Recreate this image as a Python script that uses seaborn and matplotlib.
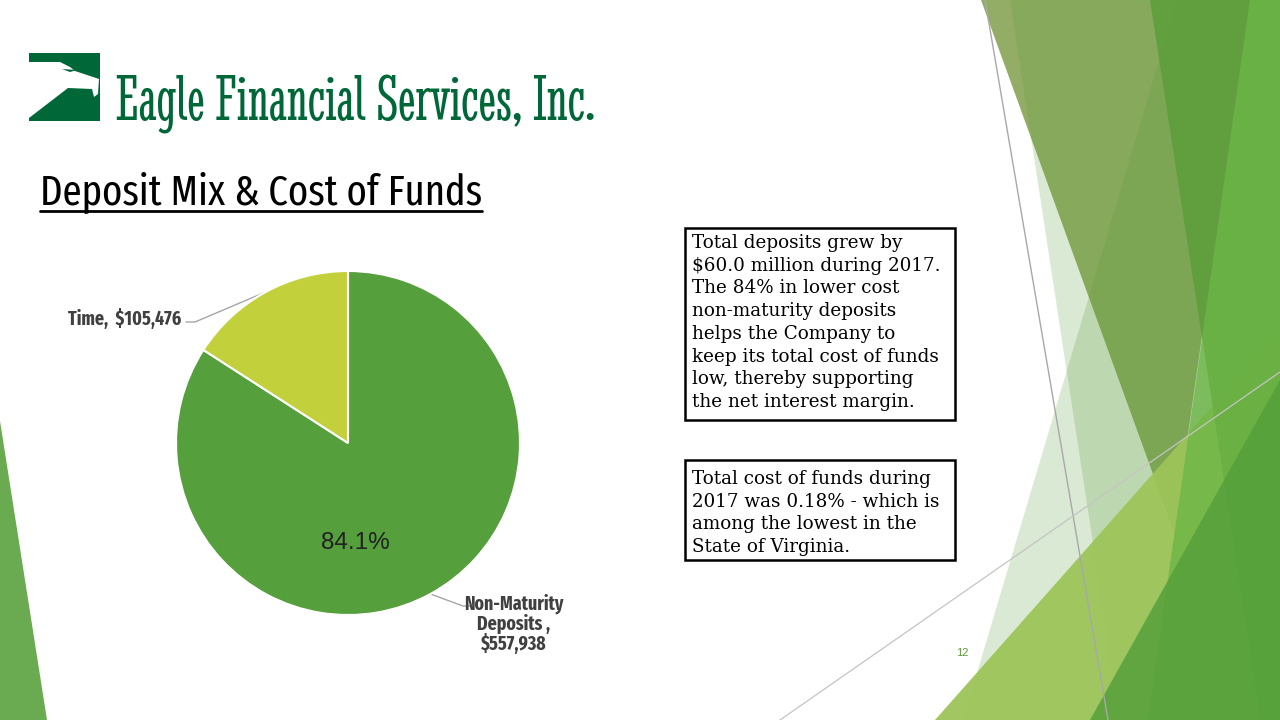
import numpy as np
import pandas as pd
import matplotlib
matplotlib.use("Agg")
import matplotlib.pyplot as plt
from matplotlib.patches import Polygon, Rectangle
from matplotlib import font_manager
from matplotlib.font_manager import FontProperties
import seaborn as sns

# ---------------- data ----------------
categories = ["Non-Maturity Deposits", "Time"]
label_texts = ["Non-Maturity\nDeposits ,\n$557,938", "Time,  $105,476"]
deposits = [557938, 105476]
slice_colors = ["#559f3c", "#c2d03b"]

title_text = "Deposit Mix & Cost of Funds"
logo_text = "Eagle Financial Services, Inc."
box1_lines = [
    "Total deposits grew by",
    "$60.0 million during 2017.",
    "The 84% in lower cost",
    "non-maturity deposits",
    "helps the Company to",
    "keep its total cost of funds",
    "low, thereby supporting",
    "the net interest margin.",
]
box2_lines = [
    "Total cost of funds during",
    "2017 was 0.18% - which is",
    "among the lowest in the",
    "State of Virginia.",
]
page_number = "12"

# ---------------- style ----------------
sns.set_theme(style="white")
plt.rcParams["font.family"] = ["Liberation Sans", "DejaVu Sans"]

W, H = 1280, 720
fig = plt.figure(figsize=(12.8, 7.2), dpi=100)
fig.patch.set_facecolor("white")
renderer = fig.canvas.get_renderer()

bg = fig.add_axes([0, 0, 1, 1], zorder=0)
bg.set_xlim(0, W)
bg.set_ylim(H, 0)
bg.axis("off")

ttf = font_manager.fontManager.ttflist
COND_STRETCH = ("condensed", "semi-condensed", "extra-condensed", "ultra-condensed")


def is_cond(f):
    return (str(f.stretch) in COND_STRETCH or
            any(k in f.name for k in ("Narrow", "Condensed", "Compressed")))


def wnum(w):
    try:
        return int(w)
    except Exception:
        return {"normal": 400, "regular": 400, "book": 400, "medium": 500,
                "semibold": 600, "demibold": 600, "bold": 700,
                "heavy": 800, "black": 900, "light": 300}.get(str(w), 400)


def choose(cands, fallback, sample, target_w, target_pt):
    """Pick the font whose size, when fitted to target_w, is closest to target_pt."""
    options = [fallback] + [FontProperties(fname=f.fname) for f in cands]
    best, best_err = fallback, None
    for fp in options:
        try:
            t = bg.text(0, -200, sample, fontproperties=fp, fontsize=20)
            w = t.get_window_extent(renderer).width
            t.remove()
        except Exception:
            continue
        fitted = 20 * target_w / w
        err = abs(np.log(fitted / target_pt))
        if best_err is None or err < best_err:
            best, best_err = fp, err
    return best


cond = [f for f in ttf if is_cond(f) and str(f.style) == "normal"]
cond_logo = [f for f in cond if 350 <= wnum(f.weight) < 600]
cond_plain = [f for f in cond if wnum(f.weight) == 400
              and "Mono" not in f.name and "Serif" not in f.name]

FP_LOGO = choose(cond_logo, FontProperties(family="Liberation Sans"), logo_text, 479, 64)
FP_TITLE = choose(cond_plain, FontProperties(family="Liberation Sans"), title_text, 442, 30)

# bold face of the same family as the title, for the data labels
title_file = FP_TITLE.get_file()
if title_file:
    fam_name = font_manager.get_font(title_file).family_name
    same_fam_bold = [f for f in ttf if f.name == fam_name and wnum(f.weight) == 700
                     and str(f.style) == "normal"]
    if same_fam_bold:
        FP_BOLD = FontProperties(fname=same_fam_bold[0].fname)
    else:
        FP_BOLD = FontProperties(family=fam_name, weight="bold")
else:
    FP_BOLD = FontProperties(family="Liberation Sans", weight="bold")
FP_SERIF = FontProperties(family="DejaVu Serif")


def fit_width(t, target):
    w = t.get_window_extent(renderer).width
    t.set_fontsize(t.get_fontsize() * target / w)
    return t


# ---------------- decorative background shapes ----------------
shapes = [
    ([(981, 0), (1250, 0), (1174, 532)], "#93ad66", 1.0),
    ([(1010, 0), (1280, 0), (1280, 720), (1120, 720)], "#5a9e3a", 0.22),
    ([(1177, 0), (1280, 0), (1280, 720), (963, 720)], "#5a9e3a", 0.22),
    ([(935, 720), (1280, 720), (1280, 330)], "#9dc45a", 0.95),
    ([(1150, 0), (1280, 0), (1280, 720), (1261, 720)], "#5e9e3c", 0.9),
    ([(1250, 0), (1280, 0), (1280, 720), (1148, 720)], "#6cb545", 0.78),
]
for pts, c, a in shapes:
    bg.add_patch(Polygon(pts, closed=True, facecolor=c, edgecolor="none", alpha=a))
bg.plot([985, 1108], [0, 720], color="#a8a8a8", lw=1.0)
bg.plot([780, 1280], [720, 372], color="#c4c4c4", lw=0.9)
bg.add_patch(Polygon([(1090, 720), (1280, 720), (1280, 380)], closed=True,
                     facecolor="#55a03b", edgecolor="none", alpha=0.85))
bg.add_patch(Polygon([(0, 421), (0, 720), (47, 720)], closed=True,
                     facecolor="#6aaa50", edgecolor="none"))

# ---------------- logo ----------------
bg.add_patch(Rectangle((29, 53), 71, 68, facecolor="#006838", edgecolor="none"))
bg.add_patch(Polygon([(29, 62), (60, 62), (70, 67), (75, 71), (99, 79), (98, 94),
                      (94, 97), (92, 89), (68, 88), (29, 118)],
                     closed=True, facecolor="white", edgecolor="none"))
bg.add_patch(Polygon([(62, 69), (77, 70), (70, 72)], closed=True,
                     facecolor="#006838", edgecolor="none"))
lt = bg.text(116, 120, logo_text, fontproperties=FP_LOGO, color="#006838", fontsize=40,
             ha="left", va="baseline")
fit_width(lt, 479)

# ---------------- title ----------------
tt = bg.text(40, 205, title_text, fontproperties=FP_TITLE, color="black", fontsize=30,
             ha="left", va="baseline")
fit_width(tt, 442)
bg.plot([40, 482], [211, 211], color="black", lw=2)

# ---------------- pie ----------------
R, cx, cy = 172, 348, 443
pax = fig.add_axes([(cx - R) / W, (H - cy - R) / H, 2 * R / W, 2 * R / H], zorder=2)
wedges, _ = pax.pie(deposits, colors=slice_colors, startangle=90, counterclock=False,
                    radius=1, wedgeprops=dict(edgecolor="white", linewidth=1.5))
pax.set_xlim(-1, 1)
pax.set_ylim(-1, 1)
pax.axis("off")

share = deposits[0] / sum(deposits)
pax.text(0.04, -0.58, f"{share * 100:.1f}%", ha="center", va="center",
         fontsize=17.5, color="#222222", family="Liberation Sans")


def edge_px(w):
    th = np.deg2rad((w.theta1 + w.theta2) / 2)
    return cx + R * np.cos(th), cy - R * np.sin(th)


ex, ey = edge_px(wedges[1])
bg.plot([ex, 195, 186], [ey, 322, 322], color="#a6a6a6", lw=1.0)
ex, ey = edge_px(wedges[0])
bg.plot([ex, 463, 470], [ey, 606, 606], color="#a6a6a6", lw=1.0)

t_time = bg.text(181, 325, label_texts[1], ha="right", va="baseline", fontproperties=FP_BOLD,
                 color="#404040", fontsize=14)
fit_width(t_time, 113)
fs_lab = min(t_time.get_fontsize(), 14.5)
t_time.set_fontsize(fs_lab)
for i, line in enumerate(label_texts[0].split("\n")):
    bg.text(514, 610 + 20 * i, line, ha="center", va="baseline", fontproperties=FP_BOLD,
            color="#404040", fontsize=fs_lab)

# ---------------- text boxes ----------------
bg.add_patch(Rectangle((685, 228), 270, 192, fill=False, edgecolor="black", lw=1.8))
bg.add_patch(Rectangle((685, 460), 270, 100, fill=False, edgecolor="black", lw=1.8))

probe = bg.text(0, -100, box1_lines[5], fontproperties=FP_SERIF, fontsize=13)
fit_width(probe, 246)
fs_box = probe.get_fontsize()
probe.remove()

for i, line in enumerate(box1_lines):
    bg.text(692, 248 + 22.7 * i, line, fontproperties=FP_SERIF, fontsize=fs_box,
            color="black", ha="left", va="baseline")
for i, line in enumerate(box2_lines):
    bg.text(692, 484 + 22.6 * i, line, fontproperties=FP_SERIF, fontsize=fs_box,
            color="black", ha="left", va="baseline")

bg.text(962, 653, page_number, color="#5b9b3a", fontsize=8, ha="center", va="center")

fig.savefig("out.png", dpi=100)
